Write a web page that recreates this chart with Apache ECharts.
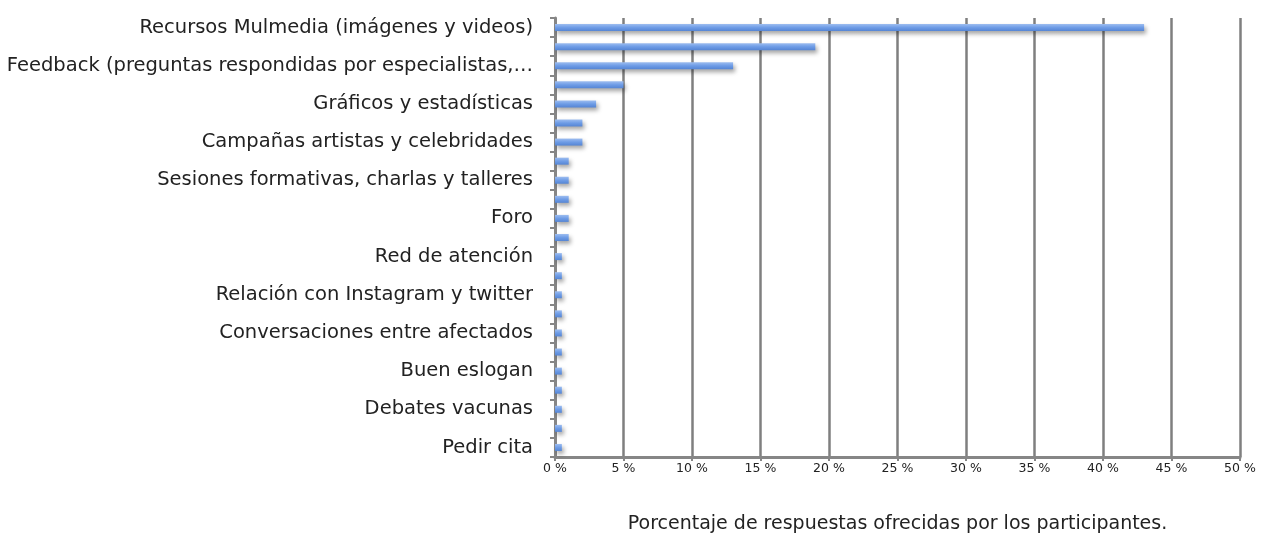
<!DOCTYPE html>
<html>
<head>
<meta charset="utf-8">
<script src="https://cdn.jsdelivr.net/npm/echarts@6/dist/echarts.min.js"></script>
<style>
html,body{margin:0;padding:0;background:#fff;}
#chart{width:1266px;height:534px;}
</style>
</head>
<body>
<div id="chart"></div>
<script>
// The reference labels only every other bar; the names of the unlabelled bars
// are not visible in it, so they are kept here as explicit placeholders.
const categories = [
  "Recursos Mulmedia (imágenes y videos)",
  "(sin etiqueta 2)",
  "Feedback (preguntas respondidas por especialistas,…",
  "(sin etiqueta 4)",
  "Gráficos y estadísticas",
  "(sin etiqueta 6)",
  "Campañas artistas y celebridades",
  "(sin etiqueta 8)",
  "Sesiones formativas, charlas y talleres",
  "(sin etiqueta 10)",
  "Foro",
  "(sin etiqueta 12)",
  "Red de atención",
  "(sin etiqueta 14)",
  "Relación con Instagram y twitter",
  "(sin etiqueta 16)",
  "Conversaciones entre afectados",
  "(sin etiqueta 18)",
  "Buen eslogan",
  "(sin etiqueta 20)",
  "Debates vacunas",
  "(sin etiqueta 22)",
  "Pedir cita"
];
const values = [43, 19, 13, 5, 3, 2, 2, 1, 1, 1, 1, 1, 0.5, 0.5, 0.5, 0.5, 0.5, 0.5, 0.5, 0.5, 0.5, 0.5, 0.5];
const xTicks = { min: 0, max: 50, interval: 5 };
const xAxisTitle = "Porcentaje de respuestas ofrecidas por los participantes.";

const chart = echarts.init(document.getElementById('chart'), null, {renderer: 'canvas'});
chart.setOption({
  animation: false,
  backgroundColor: '#fff',
  grid: { left: 555, right: 26, top: 18, bottom: 77, containLabel: false, outerBoundsMode: 'none' },
  xAxis: {
    type: 'value',
    min: xTicks.min, max: xTicks.max, interval: xTicks.interval,
    axisLine: { show: true, lineStyle: { color: '#868686', width: 3 } },
    axisTick: { show: true, length: 4, lineStyle: { color: '#868686', width: 2 } },
    splitLine: { show: true, lineStyle: { color: '#7f7f7f', width: 2.5 } },
    axisLabel: { formatter: v => v + ' %', color: '#222', fontFamily: 'DejaVu Sans', fontSize: 12.5, margin: 5 },
    name: xAxisTitle,
    nameLocation: 'middle',
    nameGap: 58,
    nameTextStyle: { color: '#222', fontFamily: 'DejaVu Sans', fontSize: 19 }
  },
  yAxis: {
    type: 'category',
    inverse: true,
    data: categories,
    axisLine: { show: true, lineStyle: { color: '#868686', width: 3 } },
    axisTick: { show: true, length: 5, interval: 0, lineStyle: { color: '#868686', width: 2 } },
    splitLine: { show: false },
    axisLabel: { interval: 1, color: '#222', fontFamily: 'DejaVu Sans', fontSize: 19.5, margin: 22 }
  },
  series: [{
    type: 'bar',
    data: values,
    barWidth: 7,
    itemStyle: {
      color: new echarts.graphic.LinearGradient(0, 0, 0, 1, [
        { offset: 0, color: '#9dbdf0' },
        { offset: 0.5, color: '#6e9ce6' },
        { offset: 1, color: '#5585d4' }
      ]),
      shadowColor: 'rgba(0,0,0,0.35)',
      shadowBlur: 4,
      shadowOffsetX: 2,
      shadowOffsetY: 3
    }
  }]
});
</script>
</body>
</html>
